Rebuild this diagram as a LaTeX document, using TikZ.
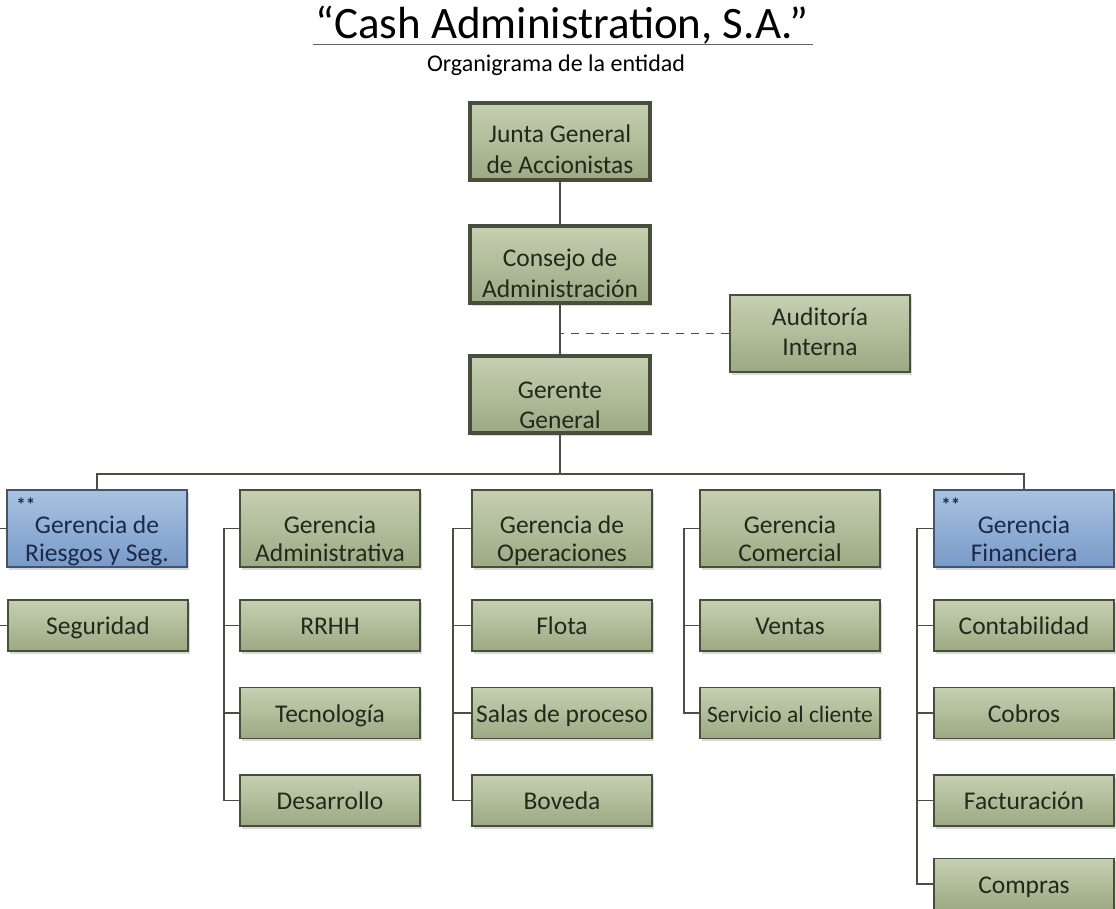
\documentclass[tikz,border=0pt]{standalone}
\usepackage{fontspec}
\setmainfont{Carlito}
\usetikzlibrary{shadows}
\definecolor{gtop}{RGB}{198,208,178}
\definecolor{gbot}{RGB}{156,169,131}
\definecolor{btop}{RGB}{170,194,226}
\definecolor{bbot}{RGB}{120,154,200}
\definecolor{gborder}{RGB}{72,78,60}
\definecolor{bborder}{RGB}{70,84,102}
\definecolor{txt}{RGB}{32,42,26}
\definecolor{btxt}{RGB}{26,42,72}
\definecolor{conncol}{RGB}{76,78,68}
% two-line text: #1 = lowering of first baseline below centre, #2 = line spacing
\newcommand{\twoline}[4]{\raisebox{-#1pt}[0pt][0pt]{\fontsize{25.5}{#2}\selectfont\begin{tabular}[t]{@{}c@{}}#3\\#4\end{tabular}}}
\newcommand{\oneline}[1]{\raisebox{-9pt}[0pt][0pt]{#1}}
\begin{document}
\begin{tikzpicture}[x=1pt,y=-1pt,
  box/.style={draw=gborder, line width=1.7pt, top color=gtop, bottom color=gbot,
    minimum width=180pt, inner sep=1pt, align=center,
    font=\fontsize{25.5}{28}\selectfont, text=txt,
    drop shadow={shadow xshift=2pt,shadow yshift=-2.5pt,opacity=0.3}},
  tall/.style={minimum height=77pt},
  short/.style={minimum height=51pt},
  heavy/.style={line width=3.2pt},
  bluebox/.style={draw=bborder, top color=btop, bottom color=bbot, text=btxt},
  conn/.style={draw=conncol, line width=1.5pt},
  starmark/.style={font=\fontsize{19}{19}\selectfont\bfseries, text=btxt, anchor=base west, inner sep=0pt},
]
\useasboundingbox (0,0) rectangle (1116,909);

% title
\node[anchor=base, font=\fontsize{45}{48}\selectfont, text=black, inner sep=0pt] (title) at (562,39) {“Cash Administration, S.A.”};
\draw[line width=1pt, color={rgb,255:red,100;green,100;blue,86}] (313,44.5) -- (813,44.5);
\node[anchor=base, font=\fontsize{24}{26}\selectfont, text=black, inner sep=0pt] (subtitle) at (556,72) {Organigrama de la entidad};

% top chain
\node[box,tall,heavy] (junta) at (560,141.5) {\twoline{1.5}{31}{Junta General}{de Accionistas}};
\node[box,tall,heavy] (consejo) at (560,264.5) {\twoline{2.5}{31}{Consejo de}{Administración}};
\node[box,tall,heavy] (gerente) at (560,394.5) {\twoline{3.5}{30}{Gerente}{General}};
\node[box,tall] (auditoria) at (820,333.5) {\twoline{-8.5}{30}{Auditoría}{Interna}};

% row 0
\node[box,tall,bluebox] (riesgos) at (97,528.5) {\twoline{4.5}{28}{Gerencia de}{Riesgos y Seg.}};
\node[box,tall] (admin) at (330,528.5) {\twoline{4.5}{28}{Gerencia}{Administrativa}};
\node[box,tall] (oper) at (562,528.5) {\twoline{4.5}{28}{Gerencia de}{Operaciones}};
\node[box,tall] (comer) at (790,528.5) {\twoline{4.5}{28}{Gerencia}{Comercial}};
\node[box,tall,bluebox] (finan) at (1024,528.5) {\twoline{4.5}{28}{Gerencia}{Financiera}};

\node[starmark] (m1) at ([xshift=10pt,yshift=-22pt]riesgos.north west) {**};
\node[starmark] (m2) at ([xshift=8pt,yshift=-22pt]finan.north west) {**};

% column 1
\node[box,short] (seguridad) at (98,625.5) {\oneline{Seguridad}};
% column 2
\node[box,short] (rrhh) at (330,625.5) {\oneline{RRHH}};
\node[box,short] (tecno) at (330,713) {\oneline{Tecnología}};
\node[box,short] (desar) at (330,800.5) {\oneline{Desarrollo}};
% column 3
\node[box,short] (flota) at (562,625.5) {\oneline{Flota}};
\node[box,short] (salas) at (562,713) {\oneline{Salas de proceso}};
\node[box,short] (boveda) at (562,800.5) {\oneline{Boveda}};
% column 4
\node[box,short] (ventas) at (790,625.5) {\oneline{Ventas}};
\node[box,short] (servicio) at (790,713) {\oneline{\fontsize{23.5}{28}\selectfont Servicio al cliente}};
% column 5
\node[box,short] (conta) at (1024,625.5) {\oneline{Contabilidad}};
\node[box,short] (cobros) at (1024,713) {\oneline{Cobros}};
\node[box,short] (factu) at (1024,800.5) {\oneline{Facturación}};
\node[box,short] (compras) at (1024,884) {\oneline{Compras}};

% connectors top
\coordinate (bus) at (0,474);
\draw[conn] (junta.south) -- (consejo.north);
\draw[conn] (consejo.south) -- (gerente.north);
\draw[conn, dash pattern=on 8pt off 7pt] (auditoria.west) -- (auditoria.west -| consejo.south);
\draw[conn] (gerente.south) -- (gerente.south |- bus);
\draw[conn] (riesgos.north) -- (riesgos.north |- bus) -- (finan.north |- bus) -- (finan.north);

% columns
\draw[conn] (riesgos.west) -- ++(-15,0) |- (seguridad.west);
\draw[conn] (admin.west) -- ++(-15,0) |- (desar.west);
\draw[conn] (rrhh.west) -- ++(-15,0);
\draw[conn] (tecno.west) -- ++(-15,0);
\draw[conn] (oper.west) -- ++(-18,0) |- (boveda.west);
\draw[conn] (flota.west) -- ++(-18,0);
\draw[conn] (salas.west) -- ++(-18,0);
\draw[conn] (comer.west) -- ++(-15,0) |- (servicio.west);
\draw[conn] (ventas.west) -- ++(-15,0);
\draw[conn] (finan.west) -- ++(-16,0) |- (compras.west);
\draw[conn] (conta.west) -- ++(-16,0);
\draw[conn] (cobros.west) -- ++(-16,0);
\draw[conn] (factu.west) -- ++(-16,0);
\end{tikzpicture}
\end{document}
